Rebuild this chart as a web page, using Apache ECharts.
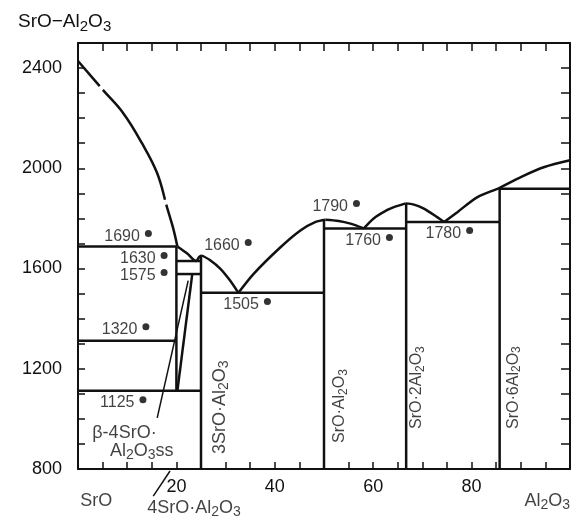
<!DOCTYPE html>
<html><head><meta charset="utf-8">
<script src="https://cdn.jsdelivr.net/npm/echarts@6/dist/echarts.min.js"></script>
<style>html,body{margin:0;padding:0;background:#fff}#c{width:578px;height:521px}</style>
</head><body><div id="c"></div>
<script>
// ---- tick labels ----
const xTickLabels = [20, 40, 60, 80];
const yTickLabels = [800, 1200, 1600, 2000, 2400];

// ---- liquidus segments [mol% Al2O3, °C] ----
const liqSrO   = [[0,2428],[5.1,2312],[9.2,2220],[13.0,2100],[16.1,1980],[18.1,1844],[19.3,1764],[20.2,1688]];
const liq4to3  = [[20.2,1688],[22.2,1660],[24.0,1630],[24.6,1645],[25.2,1652]];
const liq3Eut  = [[25.2,1652],[26.8,1634],[28.9,1600],[30.8,1555],[32.6,1503]];
const liqEut1  = [[32.6,1503],[35.7,1579],[41.1,1684],[45.2,1752],[48.3,1786],[50.3,1795]];
const liqSA    = [[50.3,1795],[53.0,1790],[55.4,1779],[58.1,1760]];
const liqSA2   = [[58.1,1760],[60.1,1800],[62.9,1834],[64.2,1845],[66.6,1860]];
const liqSA2b  = [[66.6,1860],[68.3,1855],[70.3,1839],[73.0,1805],[74.4,1786]];
const liqAl    = [[74.4,1786],[77.1,1825],[81.2,1885],[85.7,1922],[90.0,1965],[94.8,2005],[100,2032]];

// ---- invariant (horizontal) lines ----
const h1690 = [[0,1688],[20,1688]];
const h1630 = [[20,1630],[25,1630]];
const h1575 = [[20,1578],[25,1578]];
const h1320 = [[0,1312],[20,1312]];
const h1125 = [[0,1112],[25,1112]];
const h1505 = [[25,1503],[50,1503]];
const h1760 = [[50,1760],[66.7,1760]];
const h1780 = [[66.7,1786],[85.7,1786]];
const h1915 = [[85.7,1918],[100,1918]];

// ---- compound (vertical) lines ----
const v4SA  = [[20,1112],[20,1688]];
const v3SA  = [[25,800],[25,1652]];
const vSA   = [[50,800],[50,1795]];
const vSA2  = [[66.7,800],[66.7,1860]];
const vSA6  = [[85.7,800],[85.7,1918]];
const ssLine = [[20.2,1112],[23.2,1575]];

// ---- temperature annotations ----
const dotPts    = [[14.3,1740],[17.5,1652],[17.5,1584],[13.8,1368],[13.2,1076],[34.6,1704],[38.5,1468],[56.6,1860],[63.3,1724],[79.6,1752]];
const dotLabels = ['1690','1630','1575','1320','1125','1660','1505','1790','1760','1780'];

// ---- compound labels (rotated) ----
const compPts    = [[28.8,860],[53.2,904],[68.9,960],[88.5,960]];
const compLabels = ['3SrO·Al{s|2}O{s|3}','SrO·Al{s|2}O{s|3}','SrO·2Al{s|2}O{s|3}','SrO·6Al{s|2}O{s|3}'];
const compSizes  = [18, 16, 16, 16];

// ---- other labels ----
const textPts    = [[3.7,672],[100,672],[14.05,644],[2.9,944],[6.5,872]];
const textLabels = ['SrO','Al{s|2}O{s|3}','4SrO·Al{s|2}O{s|3}','β-4SrO·','Al{s|2}O{s|3}ss'];
const textAlign  = ['center','right','left','left','left'];
const leader4SA  = [[18.7,792],[15.3,692]];
const leaderSS   = [[16.1,1004],[22.4,1552]];

const INK = '#111';
const FONT = '"Liberation Sans", Arial, Helvetica, sans-serif';
function rich(size) {
  return {
    b: {fontSize: size, fontFamily: FONT, color: INK, fontWeight:'normal'},
    s: {fontSize: Math.round(size*0.78), fontFamily: FONT, color: INK, fontWeight:'normal', padding: [Math.round(size*0.45),0,0,0]}
  };
}
function wrap(str) { return str.replace(/(^|\})([^{}]+?)(?=\{|$)/g, (m,p,t)=> p + '{b|' + t + '}'); }

function lineSeries(data, extra) {
  return Object.assign({type:'line', data, symbol:'none', clip:false, silent:true,
    lineStyle:{color:INK, width:2.5}}, extra||{});
}

const series = [];
series.push(lineSeries(liqSrO, {smooth:0.4, lineStyle:{color:INK,width:2.5,type:[128,5],dashOffset:95}}));
[liq4to3, liq3Eut, liqEut1, liqSA, liqSA2, liqSA2b, liqAl].forEach(d => series.push(lineSeries(d, {smooth:0.3})));
[h1690,h1630,h1575,h1320,h1125,h1505,h1760,h1780,h1915,v4SA,v3SA,vSA,vSA2,vSA6,ssLine].forEach(d => series.push(lineSeries(d)));
series.push(lineSeries(leader4SA, {lineStyle:{color:INK,width:1.5}}));
series.push(lineSeries(leaderSS, {lineStyle:{color:INK,width:1.5}}));

series.push({type:'scatter', data: dotPts, symbol:'circle', symbolSize:7, itemStyle:{color:'#000'}, silent:true,
  label:{show:true, position:'left', distance:5, offset:[0,3], fontSize:16, fontFamily:FONT, color:INK,
    formatter: p => dotLabels[p.dataIndex]}});

series.push({type:'scatter', data: compPts.map((d,i)=>({value:d, label:{rich:rich(compSizes[i])}})), symbolSize:0, silent:true, clip:false,
  label:{show:true, position:'inside', rotate:90, align:'left', verticalAlign:'middle',
    formatter: p => wrap(compLabels[p.dataIndex]), rich: rich(16)}});

series.push({type:'scatter', data: textPts.map((d,i)=>({value:d, label:{align:textAlign[i]}})), symbolSize:0, silent:true, clip:false,
  label:{show:true, position:'inside', verticalAlign:'middle',
    formatter: p => wrap(textLabels[p.dataIndex]), rich: rich(18)}});

const axisCommon = {min:0, max:100, interval:5, axisLine:{onZero:false, lineStyle:{color:INK,width:2}},
  splitLine:{show:false}, axisTick:{inside:true, length:7, lineStyle:{color:INK,width:1.5}}};
const yCommon = {min:800, max:2500, interval:100, axisLine:{onZero:false, lineStyle:{color:INK,width:2}},
  splitLine:{show:false}, axisTick:{inside:true, length:7, lineStyle:{color:INK,width:1.5}}};

const option = {
  animation:false,
  backgroundColor:'#fff',
  title:{text:'{b|SrO−Al}{s|2}{b|O}{s|3}', left:13, top:5, textStyle:{fontWeight:'normal', rich:rich(19)}},
  grid:{left:78, right:8, top:43, bottom:52},
  xAxis:[
    Object.assign({type:'value', position:'bottom',
      axisLabel:{margin:9, fontSize:18, fontFamily:FONT, color:INK,
        formatter:v => xTickLabels.includes(v) ? String(v) : ''}}, axisCommon),
    Object.assign({type:'value', position:'top', axisLabel:{show:false}}, axisCommon, {axisTick:{inside:true,length:8,lineStyle:{color:INK,width:1.5}}})
  ],
  yAxis:[
    Object.assign({type:'value', position:'left',
      axisLabel:{margin:16, fontSize:18, fontFamily:FONT, color:INK,
        formatter:v => yTickLabels.includes(v) ? String(v) : ''}}, yCommon),
    Object.assign({type:'value', position:'right', axisLabel:{show:false}}, yCommon, {axisTick:{inside:true,length:9,lineStyle:{color:INK,width:1.5}}})
  ],
  series
};
const chart = echarts.init(document.getElementById('c'), null, {renderer:'canvas'});
chart.setOption(option);
</script></body></html>
